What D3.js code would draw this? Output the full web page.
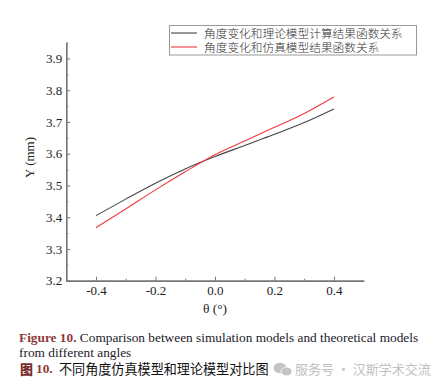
<!DOCTYPE html>
<meta charset="utf-8">
<style>
    html, body { margin: 0; padding: 0; background: #fff; }
    svg { display: block; }
    text { font-family: "Liberation Serif", serif; fill: #222; }
    .cjk { font-family: "Noto Sans CJK SC", sans-serif; }
    .axis path, .axis line { stroke: #777; }
    .axis path { stroke-width: 1.4; }
    .axis text { font-size: 13px; font-family: "Liberation Serif", serif; fill: #222; }
</style>
<svg width="444" height="388"></svg>
<script src="https://d3js.org/d3.v7.min.js"></script>
<script>
    var thetaValues = [-0.4, -0.3, -0.2, -0.1, 0, 0.1, 0.2, 0.3, 0.4];
    var theoryValues = [3.405, 3.457, 3.507, 3.552, 3.591, 3.626, 3.661, 3.698, 3.741];
    var simValues = [3.367, 3.426, 3.486, 3.543, 3.597, 3.640, 3.683, 3.727, 3.779];
    var xTicks = [-0.4, -0.2, 0, 0.2, 0.4];
    var xMinorTicks = [-0.3, -0.1, 0.1, 0.3];
    var yTicks = [3.2, 3.3, 3.4, 3.5, 3.6, 3.7, 3.8, 3.9];
    var yMinorTicks = [3.25, 3.35, 3.45, 3.55, 3.65, 3.75, 3.85, 3.95];
    var seriesNames = ["角度变化和理论模型计算结果函数关系", "角度变化和仿真模型结果函数关系"];
    var seriesColors = ["#444", "#f0383f"];

    var svg = d3.select("svg");

    var x = d3.scaleLinear().domain([-0.5, 0.5]).range([66.2, 363.7]);
    var y = d3.scaleLinear().domain([3.2, 3.95]).range([280.7, 42.6]);

    // axes, ticks point inward; minor ticks first so the major ones sit on top
    svg.append("g").attr("class", "axis")
        .attr("transform", "translate(0,280.7)")
        .call(d3.axisBottom(x).tickValues(xMinorTicks).tickSize(-2).tickSizeOuter(0).tickFormat(""));
    svg.append("g").attr("class", "axis")
        .attr("transform", "translate(0,280.7)")
        .call(d3.axisBottom(x).tickValues(xTicks).tickSize(-4).tickSizeOuter(0).tickPadding(5)
            .tickFormat(function (d) { return d3.format(".1f")(d).replace("−", "-"); }));

    svg.append("g").attr("class", "axis")
        .attr("transform", "translate(66.2,0)")
        .call(d3.axisLeft(y).tickValues(yMinorTicks).tickSize(-2).tickSizeOuter(0).tickFormat(""));
    svg.append("g").attr("class", "axis")
        .attr("transform", "translate(66.2,0)")
        .call(d3.axisLeft(y).tickValues(yTicks).tickSize(-4).tickSizeOuter(0).tickPadding(4)
            .tickFormat(d3.format(".1f")));

    svg.append("text")
        .attr("x", 215).attr("y", 313)
        .attr("text-anchor", "middle")
        .style("font-size", "13.5px")
        .text("θ (°)");

    svg.append("text")
        .attr("transform", "translate(33.5,157.5) rotate(-90)")
        .attr("text-anchor", "middle")
        .style("font-size", "13px")
        .text("Y (mm)");

    // lines
    var line = d3.line()
        .x(function (d, i) { return x(thetaValues[i]); })
        .y(function (d) { return y(d); })
        .curve(d3.curveMonotoneX);

    [theoryValues, simValues].forEach(function (values, i) {
        svg.append("path")
            .attr("d", line(values))
            .attr("fill", "none")
            .attr("stroke", seriesColors[i])
            .attr("stroke-width", 1.1);
    });

    // legend
    var legend = svg.append("g");
    legend.append("rect")
        .attr("x", 169.5).attr("y", 25.5)
        .attr("width", 247).attr("height", 29.5)
        .attr("fill", "#fff")
        .attr("stroke", "#999");

    seriesNames.forEach(function (name, i) {
        var rowY = 33 + i * 14;
        legend.append("line")
            .attr("x1", 171).attr("x2", 197)
            .attr("y1", rowY).attr("y2", rowY)
            .attr("stroke", seriesColors[i])
            .attr("stroke-width", 1.1);
        legend.append("text")
            .attr("class", "cjk")
            .attr("x", 204).attr("y", rowY + 4.5)
            .style("font-size", "11.7px")
            .style("font-weight", "300")
            .style("fill", "#333")
            .text(name);
    });

    // caption
    var caption = svg.append("text").attr("x", 19).attr("y", 342).style("font-size", "13.33px");
    caption.append("tspan").style("font-weight", "bold").style("fill", "#8c3a3a").text("Figure 10.");
    caption.append("tspan").style("fill", "#1a1a2a").text(" Comparison between simulation models and theoretical models");

    svg.append("text").attr("x", 19).attr("y", 357).style("font-size", "13.33px")
        .style("fill", "#1a1a2a").text("from different angles");

    svg.append("text").attr("class", "cjk")
        .attr("x", 20).attr("y", 373.5)
        .style("font-size", "13px").style("font-weight", "900").style("fill", "#7a2f2f")
        .text("图");
    svg.append("text")
        .attr("x", 36).attr("y", 373)
        .style("font-size", "13.33px").style("font-weight", "bold").style("fill", "#8c3a3a")
        .text("10.");
    svg.append("text").attr("class", "cjk")
        .attr("x", 59).attr("y", 373.5)
        .style("font-size", "13.1px").style("fill", "#111")
        .text("不同角度仿真模型和理论模型对比图");

    // watermark
    var mark = svg.append("g").attr("fill", "#c4c4c4");
    mark.append("ellipse").attr("cx", 280).attr("cy", 368).attr("rx", 6.5).attr("ry", 5.2);
    mark.append("ellipse").attr("cx", 286.5).attr("cy", 371.5).attr("rx", 5.5).attr("ry", 4.4)
        .attr("stroke", "#fff").attr("stroke-width", 0.8);
    svg.append("text").attr("class", "cjk")
        .attr("x", 295).attr("y", 373.5)
        .style("font-size", "13px").style("fill", "#c0c0c0")
        .text("服务号 · 汉斯学术交流");
</script>
